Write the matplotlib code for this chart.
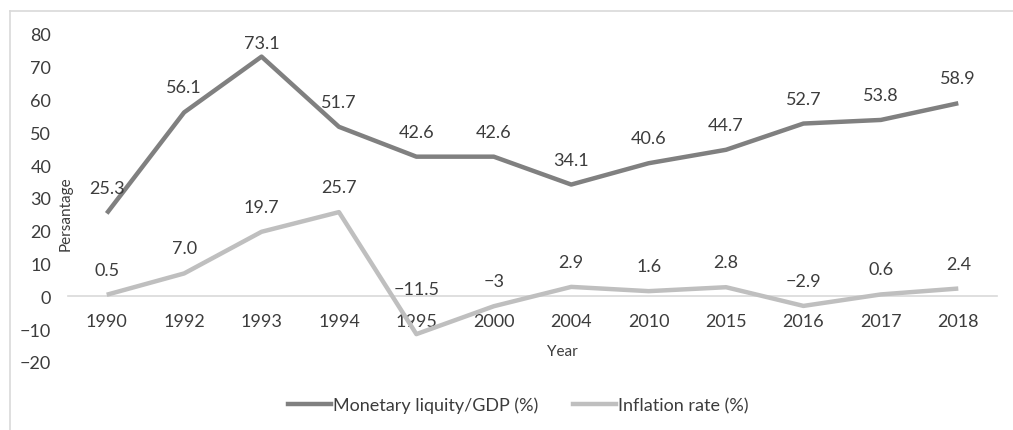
import matplotlib
matplotlib.use("Agg")
import matplotlib.pyplot as plt
from matplotlib.lines import Line2D

# --- Series data ---
years = ["1990", "1992", "1993", "1994", "1995", "2000", "2004", "2010", "2015", "2016", "2017", "2018"]
liquidity = [25.3, 56.1, 73.1, 51.7, 42.6, 42.6, 34.1, 40.6, 44.7, 52.7, 53.8, 58.9]
inflation = [0.5, 7.0, 19.7, 25.7, -11.5, -3, 2.9, 1.6, 2.8, -2.9, 0.6, 2.4]
inflation_decimals = [1, 1, 1, 1, 1, 0, 1, 1, 1, 1, 1, 1]

DARK = "#808080"
LIGHT = "#bfbfbf"
TEXT = "#3c3c3c"

plt.rcParams["font.family"] = ["Lato", "DejaVu Sans"]
plt.rcParams["axes.unicode_minus"] = True

W, H = 1013, 431
fig = plt.figure(figsize=(W / 100, H / 100), dpi=100)
ax = fig.add_axes([68 / W, 1 - 363 / H, (997 - 68) / W, (363 - 35) / H])

x = list(range(len(years)))
ax.plot(x, liquidity, color=DARK, lw=3.2, solid_joinstyle="round", solid_capstyle="butt", zorder=3)
ax.plot(x, inflation, color=LIGHT, lw=3.2, solid_joinstyle="round", solid_capstyle="butt", zorder=3)

ax.set_xlim(-0.5, len(years) - 0.5)
ax.set_ylim(-20, 80)
ax.set_yticks(range(-20, 81, 10))
ax.set_yticklabels([f"{v}".replace("-", "\u2212") for v in range(-20, 81, 10)])
ax.set_xticks(x)
ax.set_xticklabels(years)

for side in ("top", "right", "left"):
    ax.spines[side].set_visible(False)
ax.spines["bottom"].set_position(("data", 0))
ax.spines["bottom"].set_color("#d9d9d9")
ax.spines["bottom"].set_linewidth(1.2)
ax.tick_params(axis="x", length=0, pad=12, labelsize=13, labelcolor=TEXT)
ax.tick_params(axis="y", length=0, pad=12, labelsize=13, labelcolor=TEXT)

# data labels above each point, kept inside the plot area
def fmt(v, d):
    return f"{v:.{d}f}".replace("-", "\u2212")

def put_label(i, v, text, dy=25):
    _, py = ax.transData.transform((i, v))
    top = ax.transAxes.transform((0, 1))[1] - 9
    py = min(py + dy, top)
    _, ly = ax.transData.inverted().transform((0, py))
    ax.text(i, ly, text, ha="center", va="center", fontsize=13, color=TEXT)

for i, v in enumerate(liquidity):
    put_label(i, v, fmt(v, 1))
for i, (v, d) in enumerate(zip(inflation, inflation_decimals)):
    put_label(i, v, fmt(v, d), dy=45 if v < -10 else 25)

fig.text(562 / W, 1 - 352 / H, "Year", ha="center", va="center", fontsize=11, color=TEXT)
fig.text(66 / W, 1 - 214 / H, "Persantage", ha="center", va="center", rotation=90,
         fontsize=11, color=TEXT)

handles = [Line2D([], [], color=DARK, lw=3.2), Line2D([], [], color=LIGHT, lw=3.2)]
fig.legend(handles, ["Monetary liquity/GDP (%)", "Inflation rate (%)"], ncol=2,
           loc="center", bbox_to_anchor=(518 / W, 1 - 406 / H), frameon=False,
           fontsize=13, labelcolor=TEXT, handlelength=2.4, handletextpad=0.1,
           columnspacing=1.9)

# outer chart frame
fig.add_artist(Line2D([10 / W, 10 / W], [0, 1 - 12 / H], color="#d9d9d9", lw=1.2,
                      transform=fig.transFigure))
fig.add_artist(Line2D([10 / W, 1], [1 - 12 / H, 1 - 12 / H], color="#d9d9d9", lw=1.2,
                      transform=fig.transFigure))

fig.savefig("out.png", dpi=100)
